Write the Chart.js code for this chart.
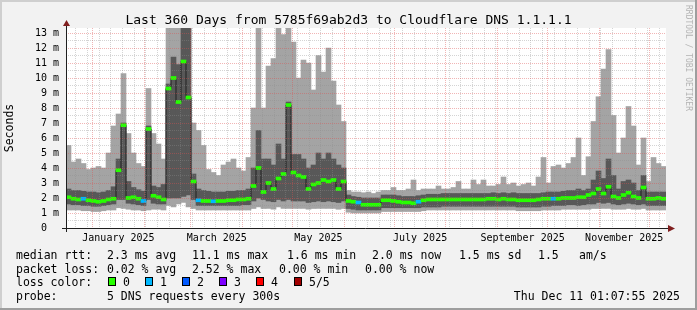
<!DOCTYPE html>
<html lang="en">
<head>
<meta charset="UTF-8">
<title>Last 360 Days from 5785f69ab2d3 to Cloudflare DNS 1.1.1.1</title>
<script src="https://cdn.jsdelivr.net/npm/chart.js"></script>
<style>
  html, body { margin: 0; padding: 0; background: #f2f2f2; }
  canvas { display: block; }
</style>
</head>
<body>
<canvas id="smoke" width="697" height="310"></canvas>
<script>
// time axis is in days relative to 2025-01-01 00:00, window = Dec 16 2024 01:07 .. Dec 11 2025 01:07
var windowStart = -15.95;
var windowDays = 360;
var binDays = 3;

// sorted pings per 3-day bin (ms): min, 2nd, median, 4th, max
var pingMin = [1.2,1.2,1.2,1.15,1.15,1.1,1.1,1.15,1.2,1.2,
  1.35,1.3,1.25,1.2,1.2,1.15,1.2,1.25,1.25,1.2,
  1.5,1.4,1.6,1.7,1.4,1.3,1.2,1.2,1.2,1.2,
  1.2,1.2,1.2,1.2,1.2,1.2,1.2,1.3,1.4,1.3,
  1.3,1.25,1.4,1.3,1.3,1.3,1.3,1.3,1.25,1.3,
  1.3,1.3,1.3,1.3,1.25,1.3,1.05,1.0,1.0,1.0,
  1.0,1.0,1.0,1.1,1.1,1.1,1.1,1.1,1.1,1.1,
  1.1,1.15,1.2,1.2,1.2,1.2,1.2,1.2,1.2,1.2,
  1.2,1.2,1.2,1.2,1.2,1.2,1.2,1.2,1.2,1.2,
  1.15,1.15,1.15,1.15,1.15,1.2,1.2,1.2,1.2,1.25,
  1.25,1.25,1.25,1.25,1.25,1.3,1.3,1.3,1.3,1.25,
  1.25,1.25,1.3,1.25,1.25,1.3,1.2,1.2,1.2,1.2];
var ping2 = [1.6,1.55,1.55,1.5,1.5,1.45,1.45,1.5,1.55,1.6,
  1.9,1.9,1.65,1.6,1.55,1.5,1.9,1.65,1.6,1.6,
  2.0,2.0,2.0,2.1,2.2,1.9,1.5,1.5,1.5,1.5,
  1.5,1.5,1.5,1.5,1.5,1.55,1.55,1.8,2.0,1.9,
  1.8,1.75,1.9,1.8,1.9,1.8,1.8,1.8,1.7,1.75,
  1.8,1.75,1.8,1.75,1.7,1.8,1.3,1.25,1.2,1.2,
  1.2,1.2,1.2,1.35,1.35,1.35,1.35,1.35,1.35,1.35,
  1.35,1.4,1.4,1.4,1.4,1.45,1.45,1.45,1.45,1.45,
  1.45,1.45,1.45,1.45,1.45,1.45,1.45,1.45,1.45,1.45,
  1.4,1.4,1.4,1.4,1.4,1.45,1.45,1.5,1.5,1.5,
  1.55,1.55,1.5,1.55,1.6,1.6,1.7,1.65,1.7,1.6,
  1.55,1.6,1.65,1.6,1.55,1.6,1.5,1.5,1.5,1.5];
var median = [2.05,1.95,1.9,1.95,1.85,1.8,1.75,1.8,1.9,1.95,
  3.85,6.85,2.0,2.05,1.95,1.8,6.6,2.15,2.05,1.9,
  9.3,10.0,8.4,11.1,8.7,3.1,1.85,1.8,1.8,1.78,
  1.8,1.8,1.85,1.85,1.9,1.9,1.95,2.8,4.0,2.4,
  3.0,2.6,3.3,3.6,8.2,3.7,3.5,3.4,2.6,2.9,
  3.0,3.2,3.1,3.2,2.6,3.1,1.8,1.75,1.7,1.55,
  1.55,1.55,1.55,1.85,1.85,1.8,1.75,1.7,1.7,1.65,
  1.75,1.85,1.9,1.9,1.9,1.9,1.9,1.9,1.9,1.9,
  1.9,1.9,1.9,1.9,1.95,1.95,1.9,1.95,1.9,1.9,
  1.85,1.85,1.85,1.85,1.9,1.95,1.95,1.95,1.95,2.0,
  2.0,2.0,2.05,2.05,2.2,2.3,2.6,2.3,2.75,2.1,
  2.0,2.2,2.35,2.1,2.0,2.7,1.95,1.95,2.0,1.95];
var ping4 = [2.6,2.5,2.5,2.45,2.4,2.4,2.35,2.4,2.5,2.75,
  4.6,7.0,3.1,2.7,2.55,2.45,6.8,2.8,2.7,2.9,
  9.6,11.4,10.9,13.4,13.4,3.6,2.6,2.5,2.45,2.4,
  2.4,2.4,2.45,2.45,2.5,2.5,2.6,4.0,6.5,4.6,
  4.6,4.2,5.6,4.6,8.4,4.9,4.9,4.6,4.0,4.2,
  5.0,4.6,5.0,4.6,4.2,4.0,2.2,2.1,2.05,2.0,
  2.0,2.0,2.0,2.2,2.2,2.2,2.15,2.1,2.1,2.1,
  2.15,2.2,2.25,2.25,2.25,2.3,2.3,2.3,2.3,2.3,
  2.3,2.3,2.3,2.3,2.3,2.35,2.3,2.35,2.3,2.35,
  2.3,2.3,2.3,2.3,2.3,2.35,2.4,2.4,2.4,2.45,
  2.5,2.5,2.6,2.5,2.6,3.2,3.8,3.3,4.6,3.5,
  2.6,3.1,3.2,3.0,2.5,3.5,2.4,2.4,2.4,2.4];
var pingMax = [5.5,4.4,4.6,4.3,3.9,4.0,4.1,4.0,5.0,6.8,
  7.6,10.3,6.3,5.0,4.3,4.1,9.3,6.3,5.6,4.6,
  13.4,13.4,13.4,13.4,13.4,7.0,6.5,5.5,3.9,3.7,
  3.5,4.2,4.4,4.6,4.0,3.8,4.7,8.0,13.4,8.0,
  10.8,11.3,13.4,12.9,13.4,12.4,10.0,11.2,11.0,9.2,
  11.5,10.4,12.0,9.8,8.2,7.1,2.5,2.4,2.4,2.35,
  2.4,2.3,2.4,2.5,2.5,2.7,2.5,2.5,2.6,3.2,
  2.5,2.6,2.6,2.6,2.8,2.6,2.6,2.7,3.1,2.6,
  2.6,3.2,2.9,3.2,2.8,2.8,2.9,3.4,2.9,3.0,
  2.8,2.9,3.0,2.8,3.4,4.7,3.0,4.1,4.2,4.0,
  4.3,4.7,6.0,3.5,4.75,7.1,8.75,10.6,11.9,7.5,
  5.0,6.0,8.1,6.8,4.2,6.0,3.1,4.7,4.3,4.1];
// lost pings (of 5) per bin
var lossCount = [0,0,0,1,0,0,0,0,0,0, 0,0,0,0,0,1,0,0,0,0,
  0,0,0,0,0,0,1,0,0,1, 0,0,0,0,0,0,0,0,0,0,
  0,0,0,0,0,0,0,0,0,0, 0,0,0,0,0,0,0,0,1,0,
  0,0,0,0,0,0,0,0,0,0, 1,0,0,0,0,0,0,0,0,0,
  0,0,0,0,0,0,0,0,0,0, 0,0,0,0,0,0,0,1,0,0,
  0,0,0,0,0,0,0,0,0,0, 0,0,0,0,0,0,0,0,0,0];

var lossColors = ['#26ff00', '#00b8ff', '#0059ff', '#7e00ff', '#ff0000', '#a10000'];
var lossNames = ['0', '1', '2', '3', '4', '5/5'];

var monthStarts = [0, 31, 59, 90, 120, 151, 181, 212, 243, 273, 304, 334];
var monthLabelDays = [15.5, 74.5, 135.5, 196.5, 258, 319];
var monthLabelTexts = ['January 2025', 'March 2025', 'May 2025', 'July 2025', 'September 2025', 'November 2025'];
var firstSunday = -10;   // Dec 22 2024

var titleText = 'Last 360 Days from 5785f69ab2d3 to Cloudflare DNS 1.1.1.1';
var legendRows = [
    [[16, 'median rtt:'], [107, '2.3 ms avg'], [192, '11.1 ms max'], [287, '1.6 ms min'], [372, '2.0 ms now'], [459, '1.5 ms sd'], [538, '1.5'], [579, 'am/s']],
    [[16, 'packet loss:'], [107, '0.02 % avg'], [192, '2.52 % max'], [279, '0.00 % min'], [365, '0.00 % now']],
    [[16, 'loss color:']],
    [[16, 'probe:'], [107, '5 DNS requests every 300s']]
];
var stampText = 'Thu Dec 11 01:07:55 2025';

var MONO = '"DejaVu Sans Mono", monospace';
var gridGray = 'rgba(143,143,143,0.38)';
var gridRed = 'rgba(222,79,79,0.42)';
var clear = 'rgba(0,0,0,0)';

function binX(i) { return windowStart + binDays * (i + 0.5); }

// x grid: weekly (sunday) lines, red month lines, and label-only ticks
var xTickKind = {};
for (var d = firstSunday; d < windowStart + windowDays; d += 7) xTickKind[d] = 'week';
monthStarts.forEach(function (m) { xTickKind[m] = 'month'; });
monthLabelDays.forEach(function (m, i) { xTickKind[m] = 'label' + i; });
var xTickValues = Object.keys(xTickKind).map(Number).sort(function (a, b) { return a - b; });

var yTickValues = [];
for (var v = 0; v <= 13; v += 0.5) yTickValues.push(v);

var rrdPlugin = {
    id: 'rrd',
    beforeDraw: function (chart) {
        var ctx = chart.ctx, a = chart.chartArea;
        ctx.save();
        ctx.fillStyle = '#f2f2f2';
        ctx.fillRect(0, 0, chart.width, chart.height);
        ctx.fillStyle = '#cfcfcf';
        ctx.fillRect(0, 0, chart.width, 2);
        ctx.fillRect(0, 0, 2, chart.height);
        ctx.fillStyle = '#9e9e9e';
        ctx.fillRect(0, chart.height - 2, chart.width, 2);
        ctx.fillRect(chart.width - 2, 0, 2, chart.height);
        ctx.fillStyle = '#ffffff';
        ctx.fillRect(a.left, a.top, a.right - a.left, a.bottom - a.top);
        ctx.restore();
    },
    afterDraw: function (chart) {
        var ctx = chart.ctx, a = chart.chartArea;
        ctx.save();
        // axes
        ctx.strokeStyle = '#1f1f1f';
        ctx.lineWidth = 1;
        ctx.beginPath();
        ctx.moveTo(a.left - 4, a.bottom + 0.5);
        ctx.lineTo(a.right + 3, a.bottom + 0.5);
        ctx.moveTo(a.left + 0.5, a.bottom + 4);
        ctx.lineTo(a.left + 0.5, a.top - 3);
        ctx.stroke();
        ctx.fillStyle = '#801f1f';
        ctx.beginPath();
        ctx.moveTo(a.right + 2, a.bottom - 3);
        ctx.lineTo(a.right + 9, a.bottom + 0.5);
        ctx.lineTo(a.right + 2, a.bottom + 4);
        ctx.closePath();
        ctx.fill();
        ctx.beginPath();
        ctx.moveTo(a.left - 3, a.top - 2);
        ctx.lineTo(a.left + 0.5, a.top - 8);
        ctx.lineTo(a.left + 4, a.top - 2);
        ctx.closePath();
        ctx.fill();

        // title
        ctx.fillStyle = '#000';
        ctx.font = '13px ' + MONO;
        ctx.textAlign = 'center';
        ctx.textBaseline = 'alphabetic';
        ctx.fillText(titleText, 348.5, 24);

        // unit label
        ctx.save();
        ctx.translate(10, (a.top + a.bottom) / 2);
        ctx.rotate(-Math.PI / 2);
        ctx.font = '11.5px ' + MONO;
        ctx.textBaseline = 'middle';
        ctx.fillText('Seconds', 0, 0);
        ctx.restore();

        // watermark
        ctx.save();
        ctx.translate(688, 5);
        ctx.rotate(Math.PI / 2);
        ctx.font = '8px ' + MONO;
        ctx.fillStyle = '#b4b4b4';
        ctx.textAlign = 'left';
        ctx.textBaseline = 'middle';
        ctx.fillText('RRDTOOL / TOBI OETIKER', 0, 0);
        ctx.restore();

        // legend
        ctx.font = '11.5px ' + MONO;
        ctx.textAlign = 'left';
        ctx.textBaseline = 'alphabetic';
        ctx.fillStyle = '#000';
        var baselines = [259, 272.5, 286, 299.5];
        legendRows.forEach(function (row, r) {
            row.forEach(function (seg) { ctx.fillText(seg[1], seg[0], baselines[r]); });
        });
        lossColors.forEach(function (c, k) {
            var bx = Math.round(108 + 37.1 * k);
            ctx.fillStyle = c;
            ctx.fillRect(bx, 277, 8, 9);
            ctx.strokeStyle = '#000';
            ctx.strokeRect(bx + 0.5, 277.5, 7, 8);
            ctx.fillStyle = '#000';
            ctx.fillText(lossNames[k], bx + 15, baselines[2]);
        });
        ctx.textAlign = 'right';
        ctx.fillText(stampText, 680, baselines[3]);
        ctx.restore();
    }
};

var chart = new Chart(document.getElementById('smoke'), {
    type: 'bar',
    data: {
        datasets: [
            {
                label: 'median',
                xAxisID: 'xb',
                data: median.map(function (m, i) { return { x: binX(i), y: [m - 0.1, m + 0.1] }; }),
                backgroundColor: lossCount.map(function (l) { return lossColors[l]; }),
                order: 0
            },
            {
                type: 'line',
                label: 'median step',
                xAxisID: 'xb',
                data: median.map(function (m, i) { return { x: binX(i), y: m }; }),
                borderColor: '#202020',
                borderWidth: 1,
                pointRadius: 0,
                stepped: 'middle',
                order: 1
            },
            {
                label: 'inner smoke',
                xAxisID: 'xb',
                data: ping2.map(function (p, i) { return { x: binX(i), y: [p, ping4[i]] }; }),
                backgroundColor: '#585858',
                order: 2
            },
            {
                label: 'outer smoke',
                xAxisID: 'xb',
                data: pingMin.map(function (p, i) { return { x: binX(i), y: [p, pingMax[i]] }; }),
                backgroundColor: '#a4a4a4',
                order: 3
            }
        ]
    },
    options: {
        responsive: false,
        animation: false,
        devicePixelRatio: 1,
        layout: { padding: { top: 28, right: 31, left: 0, bottom: 0 } },
        datasets: {
            bar: { grouped: false, barPercentage: 1, categoryPercentage: 1, borderWidth: 0 }
        },
        plugins: { legend: { display: false }, tooltip: { enabled: false } },
        scales: {
            xb: {
                type: 'linear',
                display: false,
                offset: false,
                min: windowStart,
                max: windowStart + windowDays
            },
            x: {
                type: 'linear',
                position: 'bottom',
                offset: false,
                min: windowStart,
                max: windowStart + windowDays,
                afterBuildTicks: function (s) { s.ticks = xTickValues.map(function (t) { return { value: t }; }); },
                afterFit: function (s) { s.height = 82; },
                grid: {
                    z: 1,
                    offset: false,
                    drawTicks: false,
                    color: function (c) {
                        if (!c.tick) return clear;
                        var k = xTickKind[c.tick.value];
                        if (k === 'month') return gridRed;
                        if (k === 'week') return gridGray;
                        return clear;
                    }
                },
                border: { display: false, dash: [1, 1] },
                ticks: {
                    autoSkip: false,
                    maxRotation: 0,
                    padding: 4,
                    color: '#000',
                    font: { family: MONO, size: 10 },
                    callback: function (val) {
                        var k = xTickKind[val];
                        if (k && k.indexOf('label') === 0) return monthLabelTexts[+k.slice(5)];
                        return '';
                    }
                }
            },
            y: {
                min: 0,
                max: 40 / 3,
                afterBuildTicks: function (s) { s.ticks = yTickValues.map(function (t) { return { value: t }; }); },
                afterFit: function (s) { s.width = 66; },
                grid: {
                    z: 1,
                    drawTicks: false,
                    color: function (c) {
                        if (!c.tick) return clear;
                        return c.tick.value % 1 === 0 ? gridRed : gridGray;
                    }
                },
                border: { display: false, dash: [1, 1] },
                ticks: {
                    autoSkip: false,
                    padding: 7,
                    color: '#000',
                    font: { family: MONO, size: 10 },
                    callback: function (val) {
                        if (val % 1 !== 0) return '';
                        return val === 0 ? '0  ' : val + ' m';
                    }
                }
            }
        }
    },
    plugins: [rrdPlugin]
});
</script>
</body>
</html>
